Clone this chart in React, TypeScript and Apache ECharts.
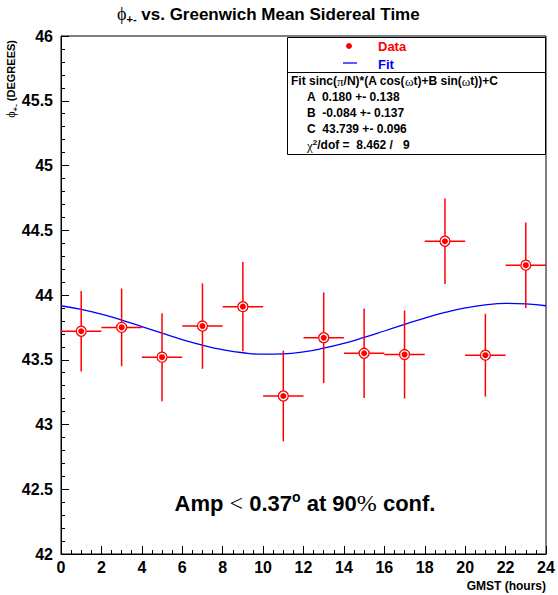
import React, { useEffect, useRef } from "react";
import * as echarts from "echarts";

// Data points (GMST hour bins)
const hours = [1, 3, 5, 7, 9, 11, 13, 15, 17, 19, 21, 23];
const phi = [43.72, 43.75, 43.52, 43.76, 43.91, 43.22, 43.67, 43.55, 43.54, 44.415, 43.535, 44.23];
const phiErr = [0.31, 0.30, 0.34, 0.33, 0.345, 0.35, 0.35, 0.345, 0.34, 0.33, 0.32, 0.33];
const hourErr = [1, 1, 1, 1, 1, 1, 1, 1, 1, 1, 1, 1];

// Fit curve
const fitHours = [0, 1, 2, 3, 4, 5, 6, 7, 8, 9, 10, 11, 12, 13, 14, 15, 16, 17, 18, 19, 20, 21, 22, 23, 24];
const fitValues = [43.917, 43.889, 43.852, 43.806, 43.756, 43.705, 43.656, 43.613, 43.578, 43.554, 43.543, 43.546, 43.561, 43.589, 43.626, 43.672, 43.722, 43.773, 43.822, 43.865, 43.9, 43.924, 43.935, 43.932, 43.917];

const fitTextLines = [
  "{b|Fit sinc(}{s|π}{b|/N)*(A cos(}{s|ω}{b|t)+B sin(}{s|ω}{b|t))+C}",
  "{b|A  0.180 +- 0.138}",
  "{b|B  -0.084 +- 0.137}",
  "{b|C  43.739 +- 0.096}",
  "{s|χ}{sup|2}{b|/dof =  8.462 /   9}",
];

const SANS = "'Liberation Sans', Arial, Helvetica, sans-serif";
const SERIF = "'Liberation Serif', 'DejaVu Serif', serif";

export default function App() {
  const ref = useRef<HTMLDivElement>(null);
  useEffect(() => {
    if (!ref.current) return;
    const chart = echarts.init(ref.current, undefined, { renderer: "svg" });
    const pts = hours.map((h, i) => [h, phi[i], hourErr[i], phiErr[i]]);
    const fit = fitHours.map((h, i) => [h, fitValues[i]]);
    const axisLabel = { color: "#000", fontFamily: SANS, fontWeight: "bold" as const, fontSize: 16 };
    const richFit = {
      b: { fontFamily: SANS, fontWeight: "bold" as const, fontSize: 12, lineHeight: 14, fill: "#000" },
      s: { fontFamily: SERIF, fontSize: 13, lineHeight: 14, fill: "#000" },
      sup: { fontFamily: SANS, fontWeight: "bold" as const, fontSize: 8, lineHeight: 8, verticalAlign: "top" as const, fill: "#000" },
    };
    const fitY = [81, 97, 113, 129, 145];
    chart.setOption({
      animation: false,
      grid: { left: 61, right: 12, top: 36, bottom: 41, show: true, borderColor: "#000", borderWidth: 1, backgroundColor: "transparent" },
      xAxis: {
        type: "value", min: 0, max: 24, interval: 2,
        axisLine: { show: true, lineStyle: { color: "#000", width: 1 } },
        axisTick: { show: true, inside: true, length: 8, lineStyle: { color: "#000" } },
        minorTick: { show: true, splitNumber: 4, length: 4, lineStyle: { color: "#000" } },
        splitLine: { show: false },
        axisLabel: { ...axisLabel, margin: 5 },
      },
      yAxis: {
        type: "value", min: 42, max: 46, interval: 0.5,
        axisLine: { show: true, lineStyle: { color: "#000", width: 1 } },
        axisTick: { show: true, inside: true, length: 8, lineStyle: { color: "#000" } },
        minorTick: { show: true, splitNumber: 5, length: 4, lineStyle: { color: "#000" } },
        splitLine: { show: false },
        axisLabel: { ...axisLabel, margin: 8 },
      },
      series: [
        {
          type: "line", data: fit, smooth: true, showSymbol: false, symbol: "none",
          lineStyle: { color: "#0000ff", width: 1.3 }, z: 2,
        },
        {
          type: "custom", data: pts, z: 3,
          renderItem: (params: any, api: any) => {
            const x = api.value(0), y = api.value(1), ex = api.value(2), ey = api.value(3);
            const c = api.coord([x, y]);
            const l = api.coord([x - ex, y]);
            const r = api.coord([x + ex, y]);
            const t = api.coord([x, y + ey]);
            const b = api.coord([x, y - ey]);
            const st = { stroke: "#ff0000", lineWidth: 1.5 };
            return {
              type: "group",
              children: [
                { type: "line", shape: { x1: l[0], y1: c[1], x2: r[0], y2: c[1] }, style: st },
                { type: "line", shape: { x1: c[0], y1: t[1], x2: c[0], y2: b[1] }, style: st },
                { type: "circle", shape: { cx: c[0], cy: c[1], r: 5 }, style: { fill: "#fff", stroke: "#ff0000", lineWidth: 1.3 } },
                { type: "circle", shape: { cx: c[0], cy: c[1], r: 3 }, style: { fill: "#ff0000" } },
              ],
            };
          },
        },
      ],
      graphic: [
        // title
        {
          type: "text", left: 117, top: 5, z: 10,
          style: {
            text: "{p|ϕ}{sub|+-}{t| vs. Greenwich Mean Sidereal Time}",
            rich: {
              p: { fontFamily: SERIF, fontSize: 18, lineHeight: 21, fill: "#000" },
              sub: { fontFamily: SANS, fontWeight: "bold", fontSize: 11, lineHeight: 11, verticalAlign: "bottom", fill: "#000" },
              t: { fontFamily: SANS, fontWeight: "bold", fontSize: 17, lineHeight: 21, fill: "#000" },
            },
          },
        },
        // y-axis title
        {
          type: "text", x: 11, y: 40, rotation: Math.PI / 2, z: 10,
          style: {
            text: "{p|ϕ}{sub|+-}{b| (DEGREES)}",
            align: "right", verticalAlign: "middle",
            rich: {
              p: { fontFamily: SERIF, fontSize: 12, lineHeight: 16, fill: "#000" },
              sub: { fontFamily: SANS, fontWeight: "bold", fontSize: 8, lineHeight: 8, verticalAlign: "bottom", fill: "#000" },
              b: { fontFamily: SANS, fontWeight: "bold", fontSize: 11, lineHeight: 16, fill: "#000" },
            },
          },
        },
        // x-axis title
        {
          type: "text", x: 546, y: 586, z: 10,
          style: { text: "GMST (hours)", align: "right", verticalAlign: "middle", fontFamily: SANS, fontWeight: "bold", fontSize: 12, fill: "#000" },
        },
        // legend / stats box
        { type: "rect", shape: { x: 287.5, y: 37.5, width: 258, height: 117 }, style: { fill: "#fff", stroke: "#000", lineWidth: 1 }, z: 8 },
        { type: "line", shape: { x1: 287.5, y1: 72.5, x2: 545.5, y2: 72.5 }, style: { stroke: "#000", lineWidth: 1 }, z: 9 },
        { type: "circle", shape: { cx: 349, cy: 46, r: 3 }, style: { fill: "#ff0000" }, z: 9 },
        { type: "text", x: 378, y: 46, z: 9, style: { text: "Data", verticalAlign: "middle", fontFamily: SANS, fontWeight: "bold", fontSize: 13, fill: "#ff0000" } },
        { type: "line", shape: { x1: 343, y1: 63, x2: 357, y2: 63 }, style: { stroke: "#0000ff", lineWidth: 1.3 }, z: 9 },
        { type: "text", x: 378, y: 64, z: 9, style: { text: "Fit", verticalAlign: "middle", fontFamily: SANS, fontWeight: "bold", fontSize: 13, fill: "#0000ff" } },
        ...fitTextLines.map((txt, i) => ({
          type: "text", x: i === 0 ? 291 : 307, y: fitY[i], z: 9,
          style: { text: txt, verticalAlign: "middle", rich: richFit },
        })),
        // annotation
        {
          type: "text", x: 305, y: 503, z: 10,
          style: {
            text: "{b|Amp }{s|<}{b| 0.37}{sup|o}{b| at 90}{s|%}{b| conf.}",
            align: "center", verticalAlign: "middle",
            rich: {
              b: { fontFamily: SANS, fontWeight: "bold", fontSize: 22, lineHeight: 27, fill: "#000" },
              s: { fontFamily: SERIF, fontSize: 24, lineHeight: 27, fill: "#000" },
              sup: { fontFamily: SANS, fontWeight: "bold", fontSize: 14, lineHeight: 14, verticalAlign: "top", fill: "#000" },
            },
          },
        },
      ],
    });
    return () => chart.dispose();
  }, []);
  return <div ref={ref} style={{ position: "absolute", left: 0, top: 0, width: 558, height: 595, background: "#fff" }} />;
}
